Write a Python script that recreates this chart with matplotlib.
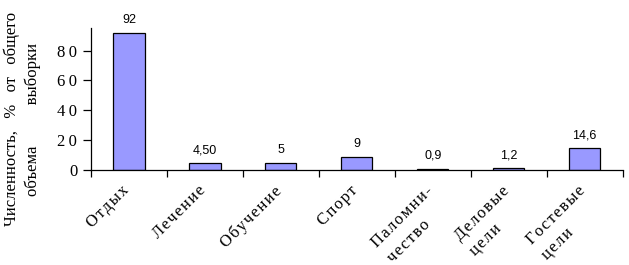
import matplotlib
matplotlib.use("Agg")
import matplotlib.pyplot as plt

categories = ["Отдых", "Лечение", "Обучение", "Спорт",
              "Паломни-\nчество", "Деловые\nцели", "Гостевые\nцели"]
values = [92, 4.5, 5, 9, 0.9, 1.2, 14.6]
value_labels = ["92", "4,50", "5", "9", "0,9", "1,2", "14,6"]
yticks = [0, 20, 40, 60, 80]

serif = ["Liberation Serif", "DejaVu Serif"]
sans = "Liberation Sans"


def spaced(s, sep="\u200a"):
    # old Excel export spreads the letters a bit
    return "\n".join(sep.join(line) for line in s.split("\n"))


fig = plt.figure(figsize=(6.29, 2.65), dpi=100)
ax = fig.add_axes([0.1447, 0.358, 0.8453, 0.536])

x = list(range(len(categories)))
bars = ax.bar(x, values, width=0.41, color="#9999ff", edgecolor="black", linewidth=0.9)

for bar, lab in zip(bars, value_labels):
    ax.annotate(lab, (bar.get_x() + bar.get_width() / 2, bar.get_height()),
                xytext=(0, 5), textcoords="offset points",
                ha="center", va="bottom", fontsize=9, family=sans)

ax.set_xlim(-0.5, len(categories) - 0.5)
ax.set_ylim(0, 95)

# ticks sit on the category boundaries, names go in between
ax.set_xticks([i - 0.5 for i in range(len(categories) + 1)])
ax.set_xticklabels([])
ax.tick_params(axis="x", length=5, direction="out", width=0.9)
for i, c in zip(x, categories):
    ax.annotate(spaced(c), (i, 0), xycoords=ax.get_xaxis_transform(),
                xytext=(-5.5, -9), textcoords="offset points",
                rotation=45, ha="right", va="top", rotation_mode="anchor",
                fontsize=12, family=serif, multialignment="left",
                linespacing=1.5, annotation_clip=False)

ax.set_yticks(yticks)
ax.set_yticklabels(["\u2009".join(str(t)) for t in yticks], fontsize=12, family=serif)
ax.tick_params(axis="y", length=6, direction="out", width=0.9, pad=4)

for s in ["top", "right"]:
    ax.spines[s].set_visible(False)
for s in ["left", "bottom"]:
    ax.spines[s].set_linewidth(0.9)

fig.text(0.035, 0.55, "Численность,   %   от   общего\nобъема          выборки",
         rotation=90, ha="center", va="center", multialignment="center",
         fontsize=12, family=serif, linespacing=1.4)

fig.savefig("out.png", dpi=100)
